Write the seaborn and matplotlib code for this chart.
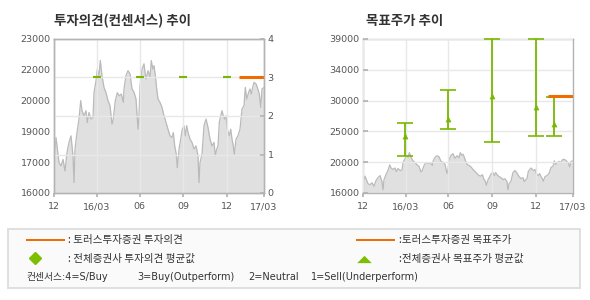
import matplotlib
matplotlib.use("Agg")
import matplotlib.pyplot as plt
import seaborn as sns
import numpy as np
from matplotlib.patches import Rectangle
from matplotlib.path import Path

# ---------------- data ----------------
t = [0, 2, 5, 7, 9, 11, 13, 15, 17, 19,
     20, 21, 23, 25, 26.7, 28, 30, 32, 33.3, 35,
     37, 39, 40, 42, 43.3, 45, 46.3, 48, 50, 52,
     54, 56, 58, 59.3, 61.3, 63.3, 65.3, 67.3, 69.3, 70,
     72, 74, 76, 78, 80, 82, 84, 85, 86, 88,
     90, 91, 92, 94, 96, 97.3, 98.7, 100, 101.3, 102.7,
     104, 106, 108, 110, 112, 114, 116, 118, 119.3, 120.7,
     122.3, 123.3, 125, 126.7, 128.3, 130, 131.3, 132.7, 134, 136,
     138, 140, 142, 144, 145, 146, 148, 150, 152, 154,
     156, 158, 160, 161.3, 162.7, 164, 165.3, 166.7, 168, 169.3,
     170.7, 172, 173.3, 175.3, 176.7, 178, 179.3, 180.3, 182, 184,
     186, 188, 190, 191.3, 192.7, 194.7, 196, 197.3, 198.7, 200,
     202, 203.3, 205.3, 206.7, 208, 210]
price = [17530, 18520, 17380, 17230, 17530, 17000, 17840, 18300, 18600, 17690,
         16470, 17990, 18750, 19360, 20200, 19740, 19510, 19740, 19200, 19660,
         19360, 19430, 20560, 21100, 21640, 21330, 22030, 21330, 20800, 20560,
         20200, 19970, 19130, 19360, 20200, 20560, 20420, 20500, 20120, 20730,
         21340, 21560, 21410, 20730, 20580, 20270, 18900, 19510, 20880, 21640,
         21870, 21490, 21180, 21560, 21260, 22020, 21640, 21790, 21340, 20730,
         20270, 20120, 19890, 19510, 19210, 18900, 18600, 18520, 18750, 18140,
         17760, 17150, 17990, 18450, 18900, 19060, 18600, 19060, 18750, 18450,
         18300, 18000, 18140, 17690, 16470, 17380, 17760, 19060, 19360, 18980,
         18450, 18140, 18300, 17690, 17990, 18140, 19210, 19510, 19740, 19510,
         19360, 19510, 18900, 18600, 18900, 18450, 18140, 17760, 18450, 18600,
         18900, 19820, 19970, 20800, 20270, 20580, 20730, 20500, 20800, 21030,
         20960, 20800, 20500, 19890, 20730, 20800]

x_tick_pos = [0, 42.5, 85.5, 129.3, 173.3, 210]
x_tick_labels = ["12", "16/03", "06", "09", "12", "17/03"]

left_ytick_labels = ["16000", "17000", "19000", "20000", "22000", "23000"]
right_ytick_labels = ["16000", "20000", "25000", "30000", "34000", "39000"]
rating_ticks = [0, 1, 2, 3, 4]

opinion_t = [42.5, 85.5, 129.3, 173.3]
opinion_avg = [3, 3, 3, 3]
firm_opinion_t = [185, 210]
firm_opinion = [3, 3]

target_t = [42, 85, 129, 173, 191]
target_high = [26400, 31350, 39000, 39000, 30400]
target_low = [21600, 25500, 23550, 24450, 24450]
target_mean = [24500, 27050, 30500, 28850, 26300]
firm_target_t = [185, 210]
firm_target = [30550, 30550]

# ---------------- style ----------------
sns.set_theme(style="white")
plt.rcParams["font.family"] = ["DejaVu Sans"]
KR = ["Noto Sans CJK KR", "DejaVu Sans"]
MIX = ["DejaVu Sans", "Noto Sans CJK KR"]

GREEN = "#79b800"
ORANGE = "#f06b00"
FILL = "#e0e0e0"
LINE = "#bababa"
GRID = "#e8e8e8"
SPINE = "#b3b3b3"
TXT = "#555555"

fig = plt.figure(figsize=(5.9, 3.0), dpi=100)
W, H = 590.0, 300.0


def style_axes(ax):
    for s in ax.spines.values():
        s.set_color(SPINE)
        s.set_linewidth(1.0)
        s.set_visible(True)


# ---------------- left chart ----------------
ax1 = fig.add_axes([54 / W, 1 - 193 / H, 210 / W, 154 / H])
ax1.set_xlim(0, 210)
ax1.set_ylim(16000, 23000)
ax1.fill_between(t, price, 16000, color=FILL, lw=0, zorder=1)
sns.lineplot(x=t, y=price, ax=ax1, color=LINE, lw=0.9, zorder=2, estimator=None, sort=False)
ax1.set_axisbelow(False)
ax1.grid(axis="x", color=GRID, lw=1.0)
ax1.grid(axis="y", visible=False)
ax1.set_xticks(x_tick_pos)
ax1.set_xticklabels(x_tick_labels)
ax1.set_yticks(np.linspace(16000, 23000, 6))
ax1.set_yticklabels(left_ytick_labels)
ax1.tick_params(axis="x", direction="out", length=3, color=SPINE, labelsize=6.8,
                labelcolor=TXT, pad=3.5, bottom=True)
ax1.tick_params(axis="y", length=0, labelsize=6.8, labelcolor=TXT, pad=2.5, left=True)
style_axes(ax1)

ax1r = ax1.twinx()
ax1r.set_ylim(0, 4)
ax1r.set_yticks(rating_ticks)
ax1r.grid(axis="y", color=GRID, lw=1.0)
ax1r.tick_params(axis="y", direction="in", length=3, color=SPINE, labelsize=6.8,
                 labelcolor=TXT, pad=2.5, right=True)
ax1r.plot(opinion_t, opinion_avg, ls="none", marker="_", ms=6.3, mew=1.5, color=GREEN)
ax1r.plot(firm_opinion_t, firm_opinion, color=ORANGE, lw=2.2, solid_capstyle="butt")
style_axes(ax1r)

# ---------------- right chart ----------------
ax2 = fig.add_axes([363 / W, 1 - 193 / H, 210 / W, 154 / H])
ax2.set_xlim(0, 210)
ax2.set_ylim(16000, 39000)
ax2.fill_between(t, price, 16000, color=FILL, lw=0, zorder=1)
sns.lineplot(x=t, y=price, ax=ax2, color=LINE, lw=0.9, zorder=2, estimator=None, sort=False)
ax2.set_axisbelow(False)
ax2.grid(axis="both", color=GRID, lw=1.0)
ax2.set_xticks(x_tick_pos)
ax2.set_xticklabels(x_tick_labels)
ax2.set_yticks(np.linspace(16000, 39000, 6))
ax2.set_yticklabels(right_ytick_labels)
ax2.tick_params(axis="x", direction="out", length=3, color=SPINE, labelsize=6.8,
                labelcolor=TXT, pad=3.5, bottom=True)
ax2.tick_params(axis="y", direction="in", length=3.5, color=SPINE, labelsize=6.8,
                labelcolor=TXT, pad=2.5, left=True)
style_axes(ax2)

tm = np.array(target_mean)
err = [tm - np.array(target_low), np.array(target_high) - tm]
eb = ax2.errorbar(target_t, target_mean, yerr=err, fmt="none", ecolor=GREEN,
                  elinewidth=1.3, capsize=6, capthick=1.2, zorder=4)
for art in eb.get_children():
    art.set_clip_on(False)
sns.scatterplot(x=target_t, y=target_mean, ax=ax2, marker="^", s=14, color=GREEN,
                edgecolor=GREEN, linewidth=0.3, zorder=5)
ax2.plot(firm_target_t, firm_target, color=ORANGE, lw=2.2, solid_capstyle="butt", zorder=6)

# ---------------- overlay: titles + legend ----------------
ov = fig.add_axes([0, 0, 1, 1])
ov.set_xlim(0, W)
ov.set_ylim(H, 0)
ov.axis("off")

ov.text(54, 21, "투자의견(컨센서스) 추이", family=KR, fontsize=9.7, fontweight="bold",
        color="#333333", va="center", ha="left")
ov.text(366.5, 21, "목표주가 추이", family=KR, fontsize=9.7, fontweight="bold",
        color="#333333", va="center", ha="left")

ov.add_patch(Rectangle((7.5, 229), 572, 59, facecolor="#fafafa", edgecolor="#dddddd", lw=1.3))

ov.plot([26, 65], [240, 240], color=ORANGE, lw=1.4, solid_capstyle="butt")
ov.plot([356, 395], [239.5, 239.5], color=ORANGE, lw=1.4, solid_capstyle="butt")
ov.plot([35], [258], marker="D", ms=6.5, color="#7cbf00", mec="#7cbf00", ls="none")
tri = Path([(-1, -0.5), (1, -0.5), (0, 0.5), (-1, -0.5)])
ov.plot([363.5], [259.3], marker=tri, ms=10.5, color="#7cbf00", mec="#7cbf00", mew=0, ls="none")

LFS = 7.6
ov.text(68, 240, ": 토러스투자증권 투자의견", family=KR, fontsize=LFS, color="#333333", va="center")
ov.text(68, 258.5, ": 전체증권사 투자의견 평균값", family=KR, fontsize=LFS, color="#333333", va="center")
ov.text(399, 240, ":토러스투자증권 목표주가", family=KR, fontsize=LFS, color="#333333", va="center")
ov.text(399, 258.5, ":전체증권사 목표주가 평균값", family=KR, fontsize=LFS, color="#333333", va="center")

SFS = 7.0
ov.text(26.5, 277, "컨센서스:4=S/Buy", family=MIX, fontsize=SFS, color="#333333", va="center")
ov.text(137.5, 277, "3=Buy(Outperform)", family=MIX, fontsize=SFS, color="#333333", va="center")
ov.text(248, 277, "2=Neutral", family=MIX, fontsize=SFS, color="#333333", va="center")
ov.text(311, 277, "1=Sell(Underperform)", family=MIX, fontsize=SFS, color="#333333", va="center")

fig.savefig("out.png", dpi=100)
